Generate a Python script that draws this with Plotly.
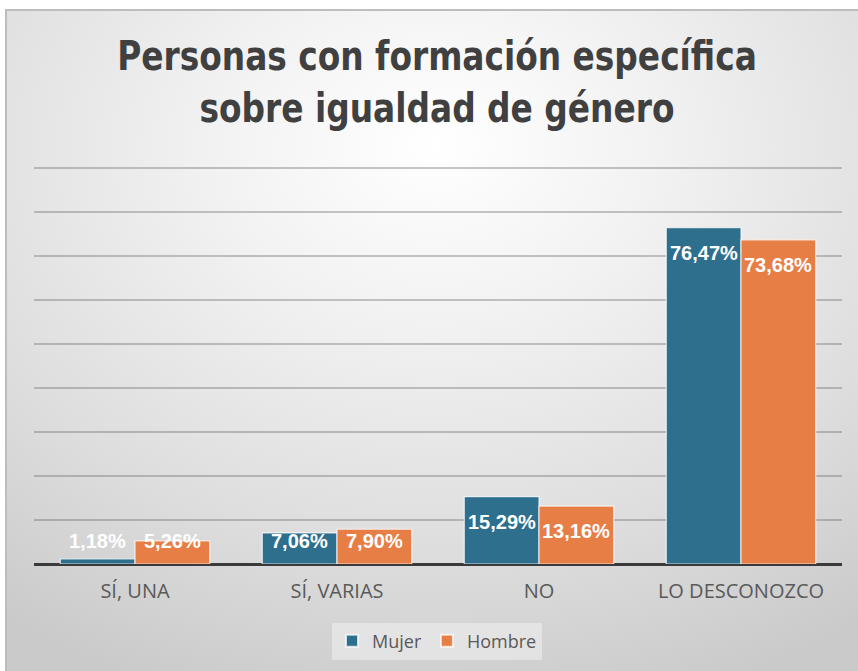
import base64
import plotly.graph_objects as go

categories = ["SÍ, UNA", "SÍ, VARIAS", "NO", "LO DESCONOZCO"]
mujer = [1.18, 7.06, 15.29, 76.47]
hombre = [5.26, 7.90, 13.16, 73.68]
series_names = ["Mujer", "Hombre"]
colors = ["#2E6F8E", "#E67E45"]

W, H = 858, 671
PL, PR = 34, 842          # plot area x in px
PB = 564                  # baseline y in px
PPU = 4.4                 # px per percentage point
Y_TOP = 90.4              # axis range top (gridline at 90 stays visible)
PT = PB - Y_TOP * PPU
BARGAP = 0.26

def fmt(v):
    return f"{v:.2f}".replace(".", ",") + "%"

# background: radial gradient with thin border (top/left)
svg = f"""<svg xmlns='http://www.w3.org/2000/svg' width='{W}' height='{H}' viewBox='0 0 {W} {H}' preserveAspectRatio='none'>
<defs><radialGradient id='g' cx='0.5' cy='0.22' r='0.85' fx='0.5' fy='0.2'>
<stop offset='0' stop-color='#ffffff'/>
<stop offset='0.3' stop-color='#f2f2f2'/>
<stop offset='0.7' stop-color='#dddddd'/>
<stop offset='1' stop-color='#cacaca'/>
</radialGradient></defs>
<rect x='0' y='0' width='{W}' height='{H}' fill='#ffffff'/>
<rect x='6' y='10' width='{W}' height='{H}' fill='url(#g)' stroke='#bdbdbd' stroke-width='2'/>
</svg>"""
src = "data:image/svg+xml;base64," + base64.b64encode(svg.encode()).decode()

fig = go.Figure()
for name, vals, col in zip(series_names, [mujer, hombre], colors):
    fig.add_trace(go.Bar(
        x=categories, y=vals, name=name,
        marker=dict(color=col, line=dict(color="rgba(255,255,255,0.75)", width=1.2)),
        hoverinfo="skip",
    ))

cat_px = (PR - PL) / len(categories)
bar_px = cat_px * (1 - BARGAP) / 2
annotations = []
for si, vals in enumerate([mujer, hombre]):
    xshift = (-0.5 + si) * bar_px
    for c, v in zip(categories, vals):
        if v * PPU - 25 >= 23:
            y, ys = v, -25
        else:
            y, ys = 0, 23
        annotations.append(dict(
            x=c, y=y, xref="x", yref="y", text=fmt(v), showarrow=False,
            xshift=xshift, yshift=ys, yanchor="middle",
            font=dict(family="Liberation Sans, Arial, sans-serif", size=20, color="white", weight="bold"),
        ))

fig.update_layout(
    width=W, height=H,
    margin=dict(l=0, r=0, t=0, b=0),
    paper_bgcolor="white", plot_bgcolor="rgba(0,0,0,0)",
    images=[dict(source=src, xref="paper", yref="paper", x=0, y=1, sizex=1, sizey=1,
                 xanchor="left", yanchor="top", sizing="stretch", layer="below")],
    barmode="group", bargap=BARGAP, bargroupgap=0,
    title=dict(
        text="Personas con formación específica<br>sobre igualdad de género",
        x=437 / W, xanchor="center", y=1 - 70 / H, yanchor="middle",
        font=dict(family="DejaVu Sans, sans-serif", size=40, color="#404040", weight="bold"),
    ),
    xaxis=dict(domain=[PL / W, PR / W], showgrid=False, showline=False,
               ticks="outside", ticklen=9, tickcolor="rgba(0,0,0,0)",
               tickfont=dict(family="Open Sans, sans-serif", size=20, color="#595959")),
    yaxis=dict(domain=[1 - PB / H, 1 - PT / H], range=[0, Y_TOP], dtick=10,
               showticklabels=False, showgrid=True, gridcolor="rgba(100,100,100,0.36)", gridwidth=1.6,
               zeroline=True, zerolinecolor="#3a3a3a", zerolinewidth=3, showline=False),
    legend=dict(orientation="h", x=437 / W, xanchor="center", y=1 - 641 / H, yanchor="middle",
                bgcolor="rgba(240,240,240,0.55)", font=dict(family="Open Sans, sans-serif", size=18, color="#595959"),
                itemsizing="constant", traceorder="normal", itemwidth=30),
    annotations=annotations,
    showlegend=True,
)

post = """
document.body.style.margin = '0';
var gd = document.getElementById('{plot_id}');
var t = gd.querySelector('.gtitle');
if (t) {
  var bb = t.getBBox();
  var s = 640 / bb.width;
  if (s < 1) {
    var cx = bb.x + bb.width / 2;
    t.setAttribute('transform', 'translate(' + (cx * (1 - s)) + ',0) scale(' + s + ',1)');
  }
}
"""

fig.write_html("out.html", post_script=post, config={"displayModeBar": False})
